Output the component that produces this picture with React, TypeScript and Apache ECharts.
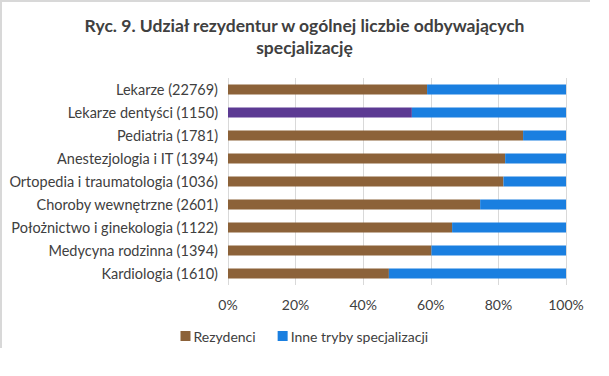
import React, { useEffect, useRef } from "react";
import * as echarts from "echarts";

const categories = [
  "Lekarze (22769)",
  "Lekarze dentyści (1150)",
  "Pediatria (1781)",
  "Anestezjologia i IT (1394)",
  "Ortopedia i traumatologia (1036)",
  "Choroby wewnętrzne (2601)",
  "Położnictwo i ginekologia (1122)",
  "Medycyna rodzinna (1394)",
  "Kardiologia (1610)",
];
const rezydenci = [58.9, 54.4, 87.3, 82.0, 81.5, 74.6, 66.3, 60.2, 47.6];
const inne = rezydenci.map((v) => +(100 - v).toFixed(1));
const tickLabels = ["0%", "20%", "40%", "60%", "80%", "100%"];
const seriesNames = ["Rezydenci", "Inne tryby specjalizacji"];

const BROWN = "#8c6239";
const BLUE = "#1a7fe0";
const PURPLE = "#5c3a93";
const FONT = "Lato";

export default function App() {
  const ref = useRef<HTMLDivElement>(null);
  useEffect(() => {
    const chart = echarts.init(ref.current!, null, { renderer: "svg" });
    chart.setOption({
      animation: false,
      backgroundColor: "#fff",
      title: {
        text: "Ryc. 9. Udział rezydentur w ogólnej liczbie odbywających\nspecjalizację",
        left: "center",
        top: 9,
        textStyle: {
          fontFamily: FONT,
          fontSize: 17.5,
          fontWeight: "bold",
          color: "#404040",
          lineHeight: 22,
        },
      },
      legend: {
        bottom: 28,
        left: "center",
        itemWidth: 10,
        itemHeight: 10,
        itemGap: 22,
        icon: "rect",
        textStyle: { fontFamily: FONT, fontSize: 14, color: "#404040", padding: [0, 0, 0, -2] },
        data: seriesNames,
      },
      grid: { left: 228, right: 43, top: 78, bottom: 91, containLabel: false },
      xAxis: {
        type: "value",
        min: 0,
        max: 100,
        interval: 20,
        axisLine: { show: false },
        axisTick: { show: false },
        splitLine: { lineStyle: { color: "#d9d9d9", width: 1 } },
        axisLabel: {
          fontFamily: FONT,
          fontSize: 14,
          color: "#404040",
          margin: 12,
          formatter: (v: number) => tickLabels[Math.round(v / 20)],
        },
      },
      yAxis: {
        type: "category",
        inverse: true,
        data: categories,
        axisLine: { show: false },
        axisTick: { show: false },
        axisLabel: { fontFamily: FONT, fontSize: 14.5, color: "#404040", margin: 10 },
      },
      series: [
        {
          name: seriesNames[0],
          type: "bar",
          stack: "s",
          barWidth: 10,
          itemStyle: { color: BROWN },
          data: rezydenci.map((v, i) =>
            i === 1 ? { value: v, itemStyle: { color: PURPLE } } : v
          ),
        },
        {
          name: seriesNames[1],
          type: "bar",
          stack: "s",
          barWidth: 10,
          itemStyle: { color: BLUE },
          data: inne,
        },
      ],
      graphic: [
        { type: "line", shape: { x1: 0, y1: 1, x2: 590, y2: 1 }, style: { stroke: "#d8d8d8", lineWidth: 2 } },
        { type: "line", shape: { x1: 1, y1: 0, x2: 1, y2: 348 }, style: { stroke: "#d8d8d8", lineWidth: 2 } },
      ],
    });
    return () => chart.dispose();
  }, []);
  return (
    <div
      ref={ref}
      style={{ position: "fixed", left: 0, top: 0, width: 609, height: 376 }}
    />
  );
}
